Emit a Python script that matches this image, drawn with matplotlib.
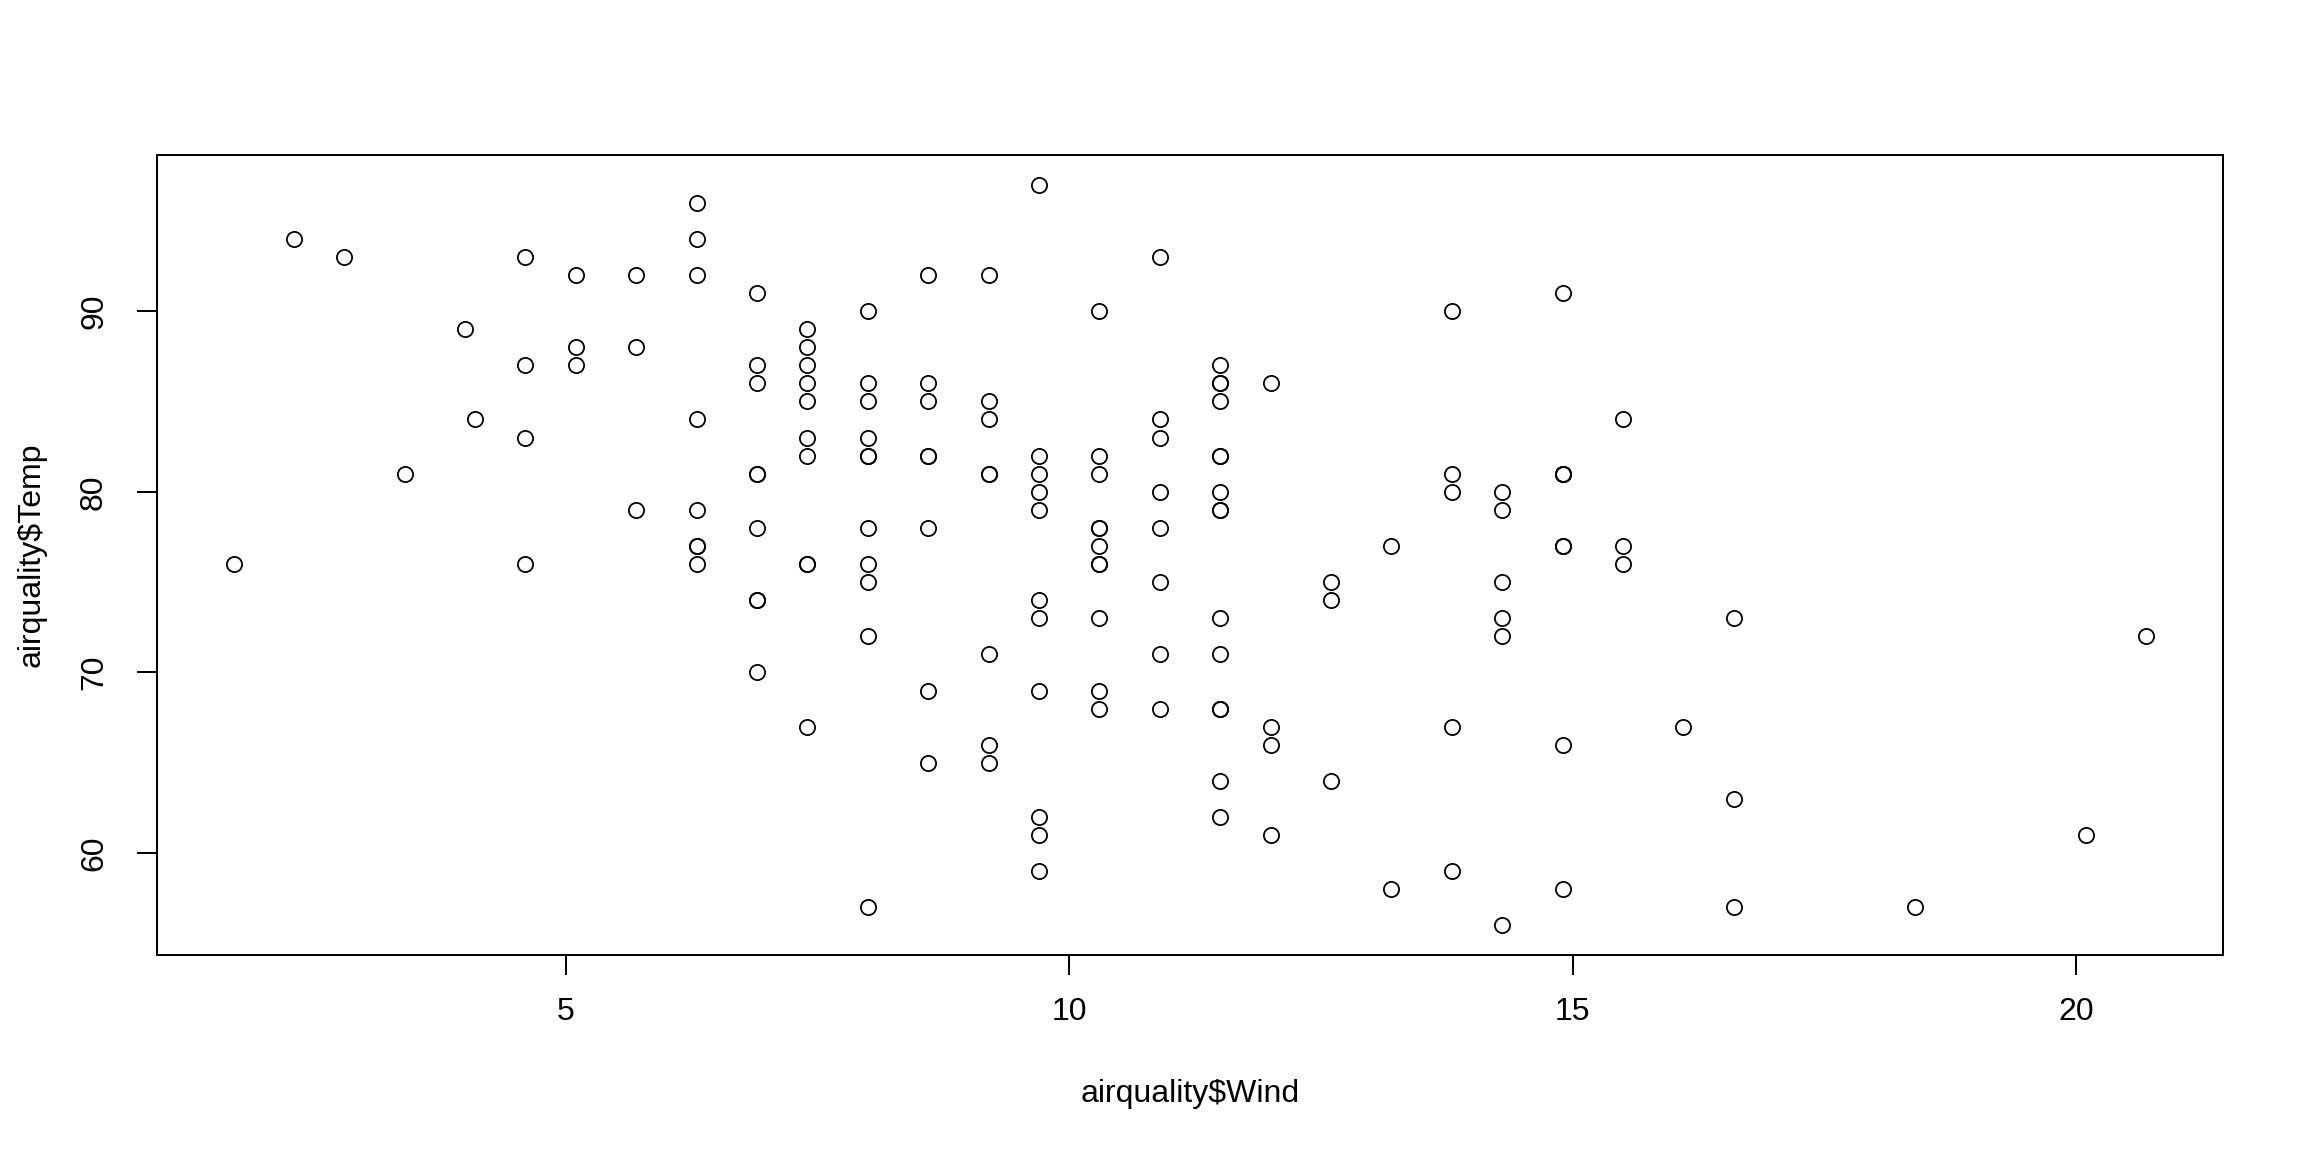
import matplotlib
matplotlib.use("Agg")
import matplotlib.pyplot as plt

wind = [7.4, 8.0, 12.6, 11.5, 14.3, 14.9, 8.6, 13.8, 20.1, 8.6, 6.9, 9.7, 9.2, 10.9, 13.2, 11.5, 12.0, 18.4, 11.5, 9.7,
        9.7, 16.6, 9.7, 12.0, 16.6, 14.9, 8.0, 12.0, 14.9, 5.7, 7.4, 8.6, 9.7, 16.1, 9.2, 8.6, 14.3, 9.7, 6.9, 13.8,
        11.5, 10.9, 9.2, 8.0, 13.8, 11.5, 14.9, 20.7, 9.2, 11.5, 10.3, 6.3, 1.7, 4.6, 6.3, 8.0, 8.0, 10.3, 11.5, 14.9,
        8.0, 4.1, 9.2, 9.2, 10.9, 4.6, 10.9, 5.1, 6.3, 5.7, 7.4, 8.6, 14.3, 14.9, 14.9, 14.3, 6.9, 10.3, 6.3, 5.1,
        11.5, 6.9, 9.7, 11.5, 8.6, 8.0, 8.6, 12.0, 7.4, 7.4, 7.4, 9.2, 6.9, 13.8, 7.4, 6.9, 7.4, 4.6, 4.0, 10.3,
        8.0, 8.6, 11.5, 11.5, 11.5, 9.7, 11.5, 10.3, 6.3, 7.4, 10.9, 10.3, 15.5, 14.3, 12.6, 9.7, 3.4, 8.0, 5.7, 9.7,
        2.3, 6.3, 6.3, 6.9, 5.1, 2.8, 4.6, 7.4, 15.5, 10.9, 10.3, 10.9, 9.7, 14.9, 15.5, 6.3, 10.9, 11.5, 6.9, 13.8,
        10.3, 10.3, 8.0, 12.6, 9.2, 10.3, 10.3, 16.6, 6.9, 13.2, 14.3, 8.0, 11.5]
temp = [67, 72, 74, 62, 56, 66, 65, 59, 61, 69, 74, 69, 66, 68, 58, 64, 66, 57, 68, 62,
        59, 73, 61, 61, 57, 58, 57, 67, 81, 79, 76, 78, 74, 67, 84, 85, 79, 82, 87, 90,
        87, 93, 92, 82, 80, 79, 77, 72, 65, 73, 76, 77, 76, 76, 76, 75, 78, 73, 80, 77,
        83, 84, 85, 81, 84, 83, 83, 88, 92, 92, 89, 82, 73, 81, 91, 80, 81, 82, 84, 87,
        85, 74, 81, 82, 86, 85, 82, 86, 88, 86, 83, 81, 81, 81, 82, 86, 85, 87, 89, 90,
        90, 92, 86, 86, 82, 80, 79, 77, 79, 76, 78, 78, 77, 72, 75, 79, 81, 86, 88, 97,
        94, 96, 94, 91, 92, 93, 93, 87, 84, 80, 78, 75, 73, 81, 76, 77, 71, 71, 78, 67,
        76, 68, 82, 64, 71, 81, 69, 63, 70, 77, 75, 76, 68]
xticks = [5, 10, 15, 20]
yticks = [60, 70, 80, 90]
xlabel = "airquality$Wind"
ylabel = "airquality$Temp"

plt.rcParams['font.family'] = ['Liberation Sans', 'DejaVu Sans']
fs = 16.0

fig = plt.figure(figsize=(16, 8), dpi=144)
ax = fig.add_axes([157/2304, 1 - 955/1152, (2223-157)/2304, (955-155)/1152])
ax.plot(wind, temp, linestyle='none', marker='o', markersize=7.6,
        markerfacecolor='none', markeredgecolor='black', markeredgewidth=0.9)

xmin, xmax = min(wind), max(wind)
ymin, ymax = min(temp), max(temp)
dx = (xmax - xmin) * 0.04
dy = (ymax - ymin) * 0.04
ax.set_xlim(xmin - dx, xmax + dx)
ax.set_ylim(ymin - dy, ymax + dy)
ax.set_xticks(xticks)
ax.set_yticks(yticks)
ax.set_xticklabels([str(t) for t in xticks])
ax.set_yticklabels([str(t) for t in yticks], rotation=90, va='center')
for s in ax.spines.values():
    s.set_linewidth(1.0)
ax.tick_params(length=10, width=1.0, labelsize=fs)
ax.tick_params(axis='x', pad=11)
ax.tick_params(axis='y', pad=14)
ax.set_xlabel(xlabel, fontsize=fs, labelpad=26)
ax.set_ylabel(ylabel, fontsize=fs, labelpad=16)

fig.savefig("out.png", dpi=144, facecolor='white')
